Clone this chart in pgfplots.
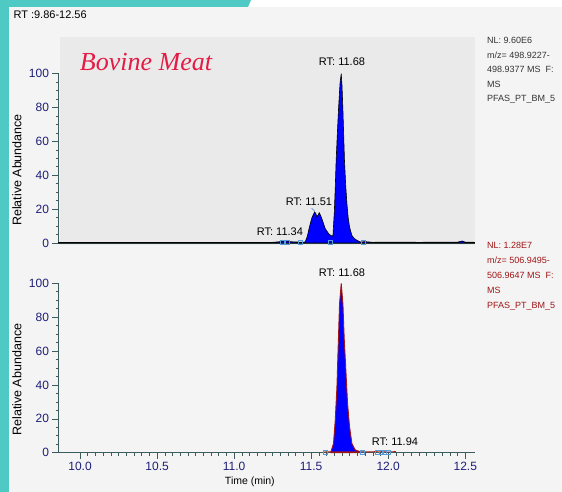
\documentclass[border=0pt]{standalone}
\usepackage{pgfplots}
\pgfplotsset{compat=1.18}
\usepackage{fontspec}
\setmainfont{Liberation Sans}
\newfontfamily\serifit{Liberation Serif}
\definecolor{teal1}{HTML}{4EC9C4}
\definecolor{bg}{HTML}{F4F4F4}
\definecolor{hatch}{HTML}{EAEAEA}
\definecolor{navy1}{HTML}{1E1E78}
\definecolor{axcol}{HTML}{3D5C5C}
\definecolor{crim}{HTML}{E31B45}
\definecolor{dred}{HTML}{A01515}
\definecolor{mk}{HTML}{5B9BD5}
\pgfplotsset{
  chrom/.style={
    scale only axis, width=416pt, height=169.4pt,
    xmin=9.86, xmax=12.56, ymin=0, ymax=100,
    axis x line*=bottom, axis y line*=left,
    axis line style={axcol, line width=0.8pt},
    tick align=outside, major tick length=6pt, minor tick length=3pt,
    every tick/.style={axcol, line width=0.6pt},
    ytick={0,20,...,100}, minor y tick num=3,
    tick label style={font=\fontsize{12}{14}\selectfont, text=navy1},
    /pgf/number format/assume math mode=true,
    ylabel={Relative Abundance},
    ylabel style={at={(rel axis cs:-0.0998,0.431)}, anchor=center, font=\fontsize{12.5}{14}\selectfont},
    clip=false,
  }
}
\begin{document}
\begin{tikzpicture}
\useasboundingbox (0pt,0pt) rectangle (562pt,492pt);
\fill[bg] (0pt,0pt) rectangle (562pt,492pt);
\fill[white] (0pt,485pt) rectangle (562pt,492pt);
\fill[teal1] (0pt,0pt) rectangle (8.5pt,492pt);
\fill[teal1] (0pt,485pt) -- (0pt,492pt) -- (251pt,492pt) -- (248pt,485pt) -- cycle;
\fill[hatch] (60pt,247pt) rectangle (475pt,455pt);
\node[anchor=base west, font=\fontsize{11}{13}\selectfont] at (10pt,473pt) {RT :9.86-12.56};

% ---------- top panel ----------
\begin{axis}[chrom, at={(58.5pt,249pt)}, anchor=south west, xtick=\empty]
\addplot[draw=black, line width=0.6pt, fill=blue] coordinates {
(9.86,0.3) (10.2,0.3) (10.6,0.3) (11.0,0.3) (11.25,0.4) (11.29,0.7) (11.31,0.9) (11.335,1.2) (11.36,0.8) (11.40,0.6) (11.44,0.5)
(11.461,0.6) (11.475,4) (11.485,8) (11.494,11.4) (11.505,15) (11.515,16.9) (11.522,18.3) (11.530,17.5) (11.536,15.5)
(11.545,16.5) (11.552,17.9) (11.56,16.5) (11.573,13.4) (11.591,8.5) (11.613,5.5) (11.626,4.5) (11.641,4.0)
(11.650,18) (11.656,32) (11.662,48.8) (11.670,65) (11.677,78.3) (11.687,94) (11.695,100) (11.700,93) (11.706,78.3)
(11.716,48.8) (11.724,34) (11.732,23.2) (11.740,15) (11.749,9.4) (11.764,4.5) (11.780,2.6) (11.797,1.6) (11.818,0.6)
(11.85,0.8) (11.9,0.4) (12.0,0.5) (12.2,0.4) (12.45,0.5) (12.48,1.2) (12.5,0.5) (12.56,0.4)
} \closedcycle;
\addplot[only marks, mark=square, mark size=2pt, mk, line width=0.6pt] coordinates {
(11.31,0.4) (11.342,0.4) (11.429,0.4) (11.623,0.4) (11.84,0.4)};
\addplot[mk, line width=0.7pt] coordinates {(11.503,20.5) (11.515,19.5) (11.522,19)};
\node[font=\fontsize{11}{13}\selectfont] at (axis cs:11.700,106.8) {RT: 11.68};
\node[font=\fontsize{11}{13}\selectfont] at (axis cs:11.486,24.5) {RT: 11.51};
\node[font=\fontsize{11}{13}\selectfont] at (axis cs:11.297,6.8) {RT: 11.34};
\end{axis}

% ---------- bottom panel ----------
\begin{axis}[chrom, at={(58.5pt,39.3pt)}, anchor=south west,
  xtick={10,10.5,...,12.5}, minor x tick num=9,
  xticklabel style={/pgf/number format/fixed, /pgf/number format/fixed zerofill, /pgf/number format/precision=1},
  xlabel={Time (min)},
  xlabel style={at={(rel axis cs:0.46,-0.173)}, anchor=center, font=\fontsize{10.5}{12}\selectfont}]
\addplot[draw=dred, line width=0.9pt, fill=blue] coordinates {
(11.628,0.6) (11.645,5.5) (11.656,19) (11.667,38.6) (11.677,68.1) (11.684,87.8) (11.695,100) (11.706,87.8)
(11.714,68.1) (11.725,48.8) (11.736,29.2) (11.749,15.4) (11.764,5.5) (11.786,1.6) (11.818,0.6)
} \closedcycle;
\addplot[dred, line width=0.8pt] coordinates {
(11.58,0.4) (11.60,0.5) (11.628,0.6) (11.818,0.6) (11.85,0.5) (11.90,0.5) (11.94,1.0) (11.97,0.6) (12.0,0.4) (12.05,0.7)};
\addplot[only marks, mark=square, mark size=2pt, mk, line width=0.6pt] coordinates {
(11.591,0.5) (11.829,0.5) (11.93,0.5) (11.955,0.5) (11.975,0.5) (12.0,0.5)};
\node[font=\fontsize{11}{13}\selectfont] at (axis cs:11.700,106.4) {RT: 11.68};
\node[font=\fontsize{11}{13}\selectfont] at (axis cs:12.044,6.3) {RT: 11.94};
\end{axis}

\node[font=\serifit\itshape\fontsize{26}{29}\selectfont, text=crim] at (146pt,430pt) {Bovine Meat};

\foreach \t [count=\i from 0] in {NL: 9.60E6, m/z= 498.9227-, 498.9377 MS\ \ F:, MS, PFAS\_PT\_BM\_5}
  \node[anchor=base west, font=\fontsize{9}{10}\selectfont, text=black!80, inner sep=0pt] at (487pt,448pt-14.5pt*\i) {\t};
\foreach \t [count=\i from 0] in {NL: 1.28E7, m/z= 506.9495-, 506.9647 MS\ \ F:, MS, PFAS\_PT\_BM\_5}
  \node[anchor=base west, font=\fontsize{9}{10}\selectfont, text=dred, inner sep=0pt] at (487pt,243pt-15pt*\i) {\t};
\end{tikzpicture}
\end{document}
